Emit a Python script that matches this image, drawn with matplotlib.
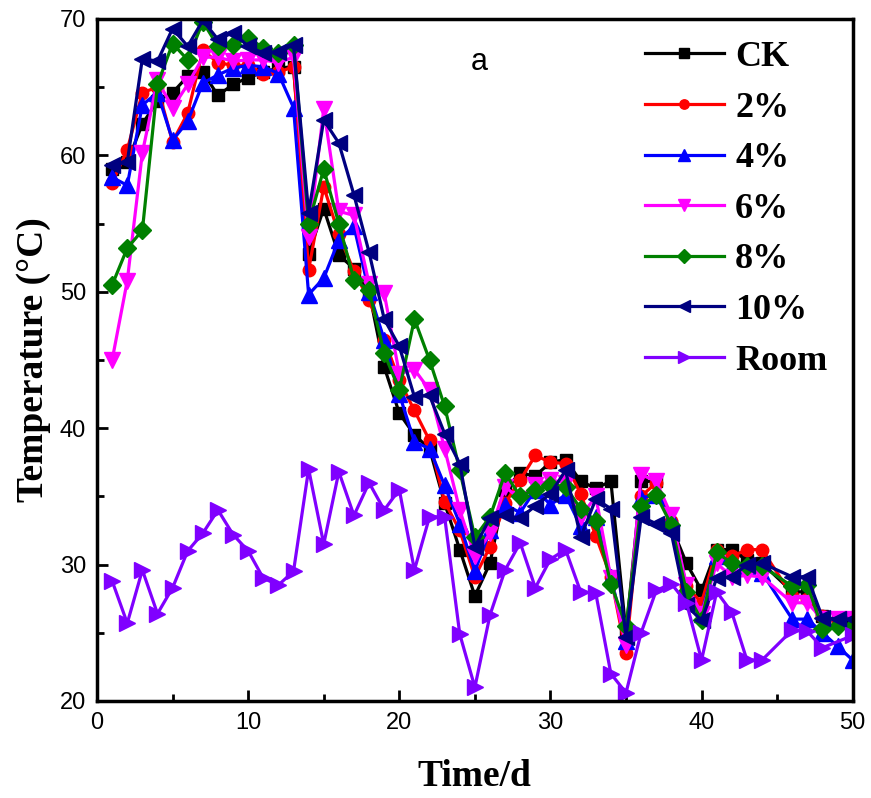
import matplotlib
matplotlib.use("Agg")
import matplotlib.pyplot as plt
from matplotlib.ticker import MultipleLocator

days = list(range(1, 45)) + [46, 47, 48, 49, 50]
room_days = list(range(1, 45)) + [46, 47, 48, 50]

ck = [59.0, 59.5, 62.3, 64.0, 64.6, 65.8, 66.1, 64.4, 65.2, 65.7,
      66.1, 66.4, 66.5, 52.8, 56.1, 52.7, 51.7, 50.0, 44.5, 41.1,
      39.5, 38.5, 34.5, 31.1, 27.7, 30.1, 35.5, 36.7, 36.5, 37.5,
      37.7, 36.1, 35.6, 36.1, 25.0, 36.1, 36.1, 32.8, 30.1, 28.1,
      31.1, 31.1, 30.3, 30.1, 28.0, 28.0, 26.2, 25.8, 25.8]
p2 = [58.0, 60.4, 64.6, 65.0, 61.0, 63.1, 67.7, 66.8, 66.6, 66.6,
      66.0, 66.1, 66.5, 51.6, 57.7, 54.2, 51.5, 49.4, 46.5, 43.5,
      41.3, 39.1, 34.6, 32.5, 29.1, 31.3, 34.5, 36.2, 38.0, 37.5,
      37.4, 35.2, 32.1, 29.1, 23.5, 35.0, 36.0, 33.2, 28.4, 27.2,
      31.1, 30.6, 31.1, 31.1, 27.7, 27.5, 26.2, 25.8, 25.2]
p4 = [58.4, 57.8, 63.7, 64.6, 61.1, 62.5, 65.3, 65.9, 66.4, 66.6,
      66.5, 66.0, 63.5, 49.8, 51.0, 53.8, 54.8, 50.0, 46.5, 42.5,
      39.0, 38.5, 35.8, 33.0, 29.5, 32.5, 34.4, 33.8, 35.5, 34.4,
      35.1, 32.8, 33.5, 29.1, 24.4, 34.9, 35.1, 33.4, 27.4, 26.4,
      30.6, 29.9, 29.9, 29.4, 26.0, 26.0, 25.0, 24.0, 23.0]
p6 = [45.0, 50.8, 60.2, 65.5, 63.5, 65.2, 67.2, 67.2, 66.9, 67.0,
      67.0, 66.8, 67.2, 54.0, 63.4, 55.9, 55.6, 50.6, 49.9, 44.0,
      44.3, 42.8, 38.5, 34.0, 30.6, 32.3, 35.7, 34.8, 35.8, 36.2,
      36.0, 33.5, 35.0, 29.0, 24.1, 36.6, 36.1, 33.6, 28.5, 26.4,
      30.1, 29.1, 29.2, 29.1, 27.2, 27.2, 26.0, 26.0, 26.0]
p8 = [50.5, 53.2, 54.5, 65.2, 68.2, 67.0, 69.8, 68.0, 68.1, 68.6,
      67.9, 67.5, 68.1, 55.0, 59.0, 55.0, 50.9, 50.1, 45.5, 42.8,
      48.0, 45.0, 41.6, 36.9, 32.0, 33.5, 36.7, 35.0, 35.5, 35.8,
      35.7, 34.1, 33.2, 28.6, 25.5, 34.3, 35.1, 32.9, 28.0, 25.9,
      30.9, 30.1, 29.9, 29.9, 28.4, 28.5, 25.3, 25.5, 25.5]
p10 = [59.3, 59.5, 67.1, 66.9, 69.3, 68.0, 69.9, 68.5, 69.0, 68.0,
       67.5, 67.6, 68.1, 55.8, 62.6, 60.9, 57.1, 52.9, 48.0, 46.0,
       42.3, 42.4, 39.6, 37.4, 31.3, 33.4, 33.6, 33.4, 34.3, 35.2,
       36.9, 32.0, 34.8, 34.1, 24.7, 33.5, 33.0, 32.3, 27.0, 25.9,
       29.0, 29.1, 30.0, 30.1, 29.1, 29.1, 26.1, 26.0, 26.0]
room = [28.8, 25.7, 29.6, 26.4, 28.3, 31.0, 32.3, 34.0, 32.2, 31.0,
        29.0, 28.5, 29.5, 37.0, 31.5, 36.8, 33.6, 36.0, 34.0, 35.5,
        29.6, 33.5, 33.5, 24.9, 21.0, 26.3, 29.6, 31.6, 28.3, 30.4,
        31.1, 28.0, 27.9, 22.0, 20.6, 25.0, 28.1, 28.6, 27.2, 23.0,
        28.0, 26.5, 23.0, 23.0, 25.2, 25.1, 23.9, 24.8]

labels = ["CK", "2%", "4%", "6%", "8%", "10%", "Room"]
colors = ["#000000", "#FF0000", "#0000FF", "#FF00FF", "#008000", "#000080", "#8000FF"]
markers = ["s", "o", "^", "v", "D", "<", ">"]
xs = [days] * 6 + [room_days]
ys = [ck, p2, p4, p6, p8, p10, room]

fig = plt.figure(figsize=(8.71, 7.98), dpi=100)
ax = fig.add_axes([0.1114, 0.1216, 0.8676, 0.8546])

for x, y, lab, c, m in zip(xs, ys, labels, colors, markers):
    ms = 9 if m in ("s", "o", "D") else 11
    ax.plot(x, y, color=c, marker=m, markersize=ms, linewidth=2.3, label=lab)

ax.set_xlim(0, 50)
ax.set_ylim(20, 70)
ax.xaxis.set_major_locator(MultipleLocator(10))
ax.xaxis.set_minor_locator(MultipleLocator(5))
ax.yaxis.set_major_locator(MultipleLocator(10))
ax.yaxis.set_minor_locator(MultipleLocator(5))
ax.tick_params(which="both", direction="in", width=2, top=False, right=False)
ax.tick_params(which="major", length=8, labelsize=17, pad=8)
ax.tick_params(which="minor", length=5)
for lbl in ax.get_xticklabels() + ax.get_yticklabels():
    lbl.set_family(["Liberation Sans Narrow", "Liberation Sans", "DejaVu Sans"])
for s in ax.spines.values():
    s.set_linewidth(2.5)

ax.set_xlabel("Time/d", family="Liberation Serif", fontweight="bold", fontsize=27, labelpad=18)
ax.set_ylabel("Temperature (\u00b0C)", family="Liberation Serif", fontweight="bold", fontsize=27, labelpad=6)

fig.text(0.541, 0.912, "a", fontsize=22, family="Liberation Sans")

leg = ax.legend(loc="upper right", frameon=False, prop={"family": "Liberation Serif", "weight": "bold", "size": 26},
                handlelength=2.2, handletextpad=0.3, labelspacing=0.48, markerscale=0.75,
                borderaxespad=0.2, bbox_to_anchor=(0.995, 1.0))

fig.savefig("out.png", dpi=100)
